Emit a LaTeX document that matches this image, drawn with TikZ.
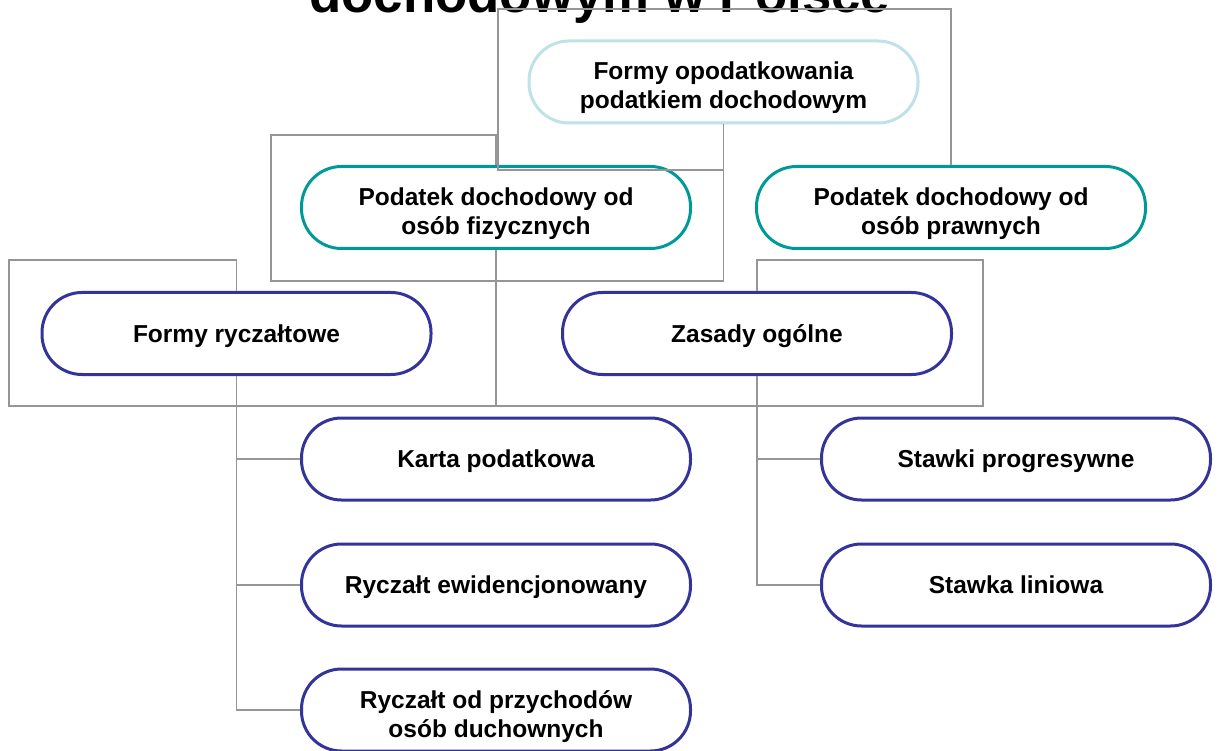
\documentclass[tikz,border=0pt]{standalone}
\usepackage{fontspec}
\setmainfont{Liberation Sans}
\usepackage{tikz}
\usetikzlibrary{positioning}
\definecolor{rootblue}{RGB}{190,226,230}
\definecolor{branchteal}{RGB}{0,153,153}
\definecolor{leafblue}{RGB}{51,51,153}
\definecolor{linegray}{RGB}{150,150,150}
\tikzset{taxnode/.style={rectangle,
                        rounded corners=40pt,
                        minimum width=389pt,
                        minimum height=82pt,
                        line width=3pt,
                        outer sep=1.5pt,
                        text depth=0pt,
                        align=center,
                        font=\fontsize{24.5}{29}\selectfont\bfseries
                        },
        taxroot/.style={taxnode, draw=rootblue},
        taxbranch/.style={taxnode, draw=branchteal},
        taxleaf/.style={taxnode, draw=leafblue},
        twolines/.style={text height=54pt},
        taxline/.style={draw=linegray, line width=1.2pt},
}
\begin{document}
\begin{tikzpicture}
    [x=1pt,y=-1pt]
    \useasboundingbox (0,0) rectangle (1218,751);

    % TITLE
    \node[anchor=base west, inner sep=0pt, font=\fontsize{52.8}{60}\selectfont\bfseries] (title) at (309,12.7) {dochodowym w Polsce};

    % TAX FORMS
    \node[taxroot, twolines] (taxForms) at (723.5,82) {Formy opodatkowania\\podatkiem dochodowym};

    \node[taxbranch, twolines, below=40.5pt of taxForms, xshift=-227.5pt] (personalTax) {Podatek dochodowy od\\osób fizycznych};
    \node[taxbranch, twolines, right=63pt of personalTax] (corporateTax) {Podatek dochodowy od\\osób prawnych};

    \node[taxleaf, below=41pt of personalTax, xshift=-259.5pt] (lumpSum) {Formy ryczałtowe};
    \node[taxleaf, right=128.5pt of lumpSum] (generalRules) {Zasady ogólne};

    \node[taxleaf, below=40.5pt of lumpSum, xshift=259.5pt] (taxCard) {Karta podatkowa};
    \node[taxleaf, below=41pt of taxCard] (recordedLumpSum) {Ryczałt ewidencjonowany};
    \node[taxleaf, twolines, below=40pt of recordedLumpSum] (clergyLumpSum) {Ryczałt od przychodów\\osób duchownych};

    \node[taxleaf, right=128pt of taxCard] (progressiveRates) {Stawki progresywne};
    \node[taxleaf, below=41pt of progressiveRates] (flatRate) {Stawka liniowa};

    % CONNECTORS
    \draw[taxline] (taxForms.south) |- (498,170) |- (corporateTax.north |- 0,9) -- (corporateTax.north);
    \draw[taxline] (taxForms.south) |- (271,281) |- (personalTax.north |- 0,135) -- (personalTax.north);
    \draw[taxline] (personalTax.south) |- (9,406) |- (lumpSum.north |- 0,260) -- (lumpSum.north);
    \draw[taxline] (personalTax.south) |- (983,406) |- (generalRules.north |- 0,260) -- (generalRules.north);
    \draw[taxline] (lumpSum.south) |- (taxCard.west);
    \draw[taxline] (lumpSum.south) |- (recordedLumpSum.west);
    \draw[taxline] (lumpSum.south) |- (clergyLumpSum.west);
    \draw[taxline] (generalRules.south) |- (progressiveRates.west);
    \draw[taxline] (generalRules.south) |- (flatRate.west);

\end{tikzpicture}
\end{document}
